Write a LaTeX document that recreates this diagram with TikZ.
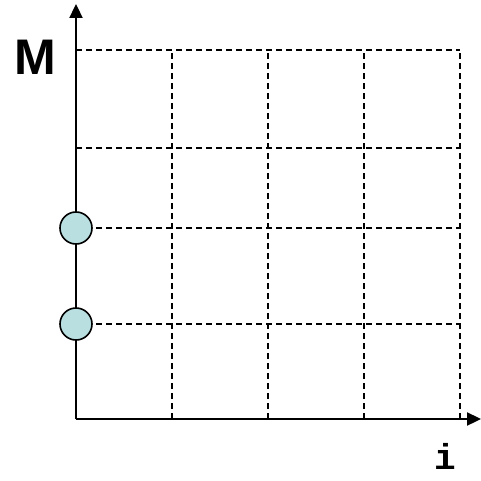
\documentclass[tikz,border=0pt]{standalone}
\usepackage{fontspec}
\usepackage{xcolor}
\usepackage{tikz}
\usetikzlibrary{arrows.meta}
\newfontfamily\labelsans{Liberation Sans}
\newfontfamily\labelmono{Liberation Mono}
\definecolor{Dot}{HTML}{B9DFE1}
\begin{document}
\begin{tikzpicture}[
  x=1pt, y=1pt,
  axis/.style={line width=2.3pt, -{Triangle[length=14pt,width=13pt]}},
  gridln/.style={line width=1.5pt, dash pattern=on 6pt off 4pt},
  dot/.style={circle, draw, line width=1.6pt, fill=Dot, minimum size=32pt, inner sep=0pt},
]
\useasboundingbox (0,0) rectangle (481,480);
\coordinate (o)  at (76, 61);
\coordinate (xe) at (481, 61);
\coordinate (ye) at (76, 476);
% grid
\draw[gridln] (76,430) -- (460,430);
\draw[gridln] (76,332) -- (460,332);
\draw[gridln] (76,252) -- (460,252);
\draw[gridln] (76,156) -- (460,156);
\draw[gridln] (172,61) -- (172,430);
\draw[gridln] (268,61) -- (268,430);
\draw[gridln] (364,61) -- (364,430);
\draw[gridln] (460,61) -- (460,430);
% axes
\draw[axis] (o) -- (xe);
\draw[axis] (o) -- (ye);
\node[dot] (m2) at (76,252) {};
\node[dot] (m1) at (76,156) {};
\node[font=\labelsans\bfseries\fontsize{50}{50}\selectfont] (ml) at (35,423) {M};
\node[font=\labelmono\bfseries\fontsize{36}{36}\selectfont] (il) at (445,24) {i};
\end{tikzpicture}
\end{document}
